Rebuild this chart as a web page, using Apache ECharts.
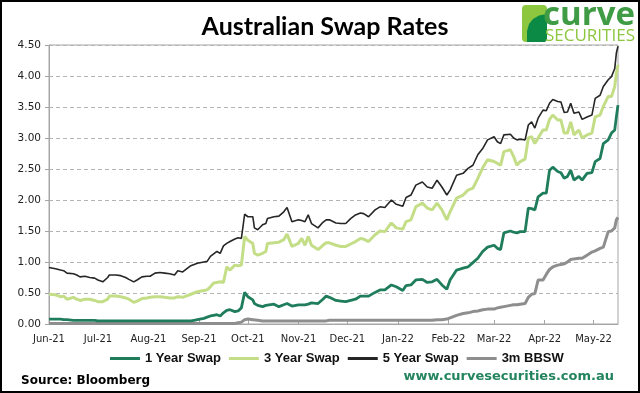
<!DOCTYPE html>
<html><head><meta charset="utf-8">
<script src="https://cdn.jsdelivr.net/npm/echarts@6/dist/echarts.min.js"></script>
<style>html,body{margin:0;padding:0;background:#fff}#c{width:640px;height:393px}</style>
</head><body><div id="c"></div>
<script>
const dates=['2021-06-01','2021-06-05','2021-06-08','2021-06-10','2021-06-12','2021-06-16','2021-06-18','2021-06-20','2021-06-23','2021-06-26','2021-06-29','2021-07-01',
'2021-07-04','2021-07-07','2021-07-08','2021-07-12','2021-07-15','2021-07-18','2021-07-20','2021-07-23','2021-07-25','2021-07-28','2021-07-31','2021-08-02',
'2021-08-05','2021-08-08','2021-08-11','2021-08-14','2021-08-17','2021-08-19','2021-08-22','2021-08-23','2021-08-27','2021-08-29','2021-08-31','2021-09-04',
'2021-09-06','2021-09-08','2021-09-10','2021-09-12','2021-09-14','2021-09-16','2021-09-18','2021-09-20','2021-09-23','2021-09-25','2021-09-27','2021-09-29',
'2021-10-01','2021-10-04','2021-10-05','2021-10-07','2021-10-10','2021-10-12','2021-10-13','2021-10-17','2021-10-20','2021-10-23','2021-10-25','2021-10-28',
'2021-11-01','2021-11-03','2021-11-05','2021-11-07','2021-11-09','2021-11-13','2021-11-16','2021-11-18','2021-11-20','2021-11-24','2021-11-27','2021-11-30',
'2021-12-03','2021-12-06','2021-12-09','2021-12-11','2021-12-14','2021-12-18','2021-12-21','2021-12-24','2021-12-28','2021-12-31','2022-01-04','2022-01-06',
'2022-01-09','2022-01-12','2022-01-16','2022-01-19','2022-01-22','2022-01-25','2022-01-28','2022-01-31','2022-02-02','2022-02-06','2022-02-10','2022-02-13',
'2022-02-16','2022-02-19','2022-02-22','2022-02-25','2022-03-01','2022-03-03','2022-03-05','2022-03-07','2022-03-11','2022-03-13','2022-03-15','2022-03-17',
'2022-03-20','2022-03-22','2022-03-24','2022-03-26','2022-03-28','2022-03-31','2022-04-02','2022-04-04','2022-04-06','2022-04-09','2022-04-11','2022-04-13',
'2022-04-15','2022-04-17','2022-04-19','2022-04-22','2022-04-24','2022-04-27','2022-04-30','2022-05-02','2022-05-05','2022-05-07','2022-05-10','2022-05-12',
'2022-05-14','2022-05-15','2022-05-16'];

const swap1y=[.08,.08,.08,.07,.07,.06,.06,.06,.06,.06,.06,.05,
.05,.05,.05,.05,.05,.05,.05,.05,.05,.05,.05,.05,
.05,.05,.05,.05,.05,.05,.05,.05,.05,.06,.07,.09,
.11,.13,.14,.15,.13,.18,.22,.23,.20,.21,.26,.51,
.44,.39,.33,.30,.28,.30,.31,.32,.28,.31,.33,.29,
.31,.31,.31,.32,.34,.33,.40,.45,.43,.38,.37,.36,
.38,.40,.45,.45,.45,.51,.55,.55,.63,.60,.54,.62,
.63,.71,.72,.67,.68,.72,.63,.56,.71,.87,.90,.92,
.99,1.06,1.17,1.24,1.27,1.22,1.20,1.47,1.50,1.48,1.47,1.49,
1.49,1.87,1.86,1.84,2.05,2.11,2.11,2.48,2.53,2.46,2.44,2.35,
2.38,2.48,2.32,2.38,2.32,2.43,2.44,2.62,2.67,2.91,2.97,3.08,
3.13,3.34,3.53];

const swap3y=[.48,.47,.44,.45,.40,.43,.40,.38,.40,.40,.38,.36,
.36,.40,.45,.45,.44,.42,.40,.35,.37,.41,.42,.43,
.44,.44,.43,.42,.42,.44,.43,.41,.48,.50,.52,.54,
.55,.60,.66,.67,.68,.67,.92,.87,.95,.94,.95,1.41,
1.35,1.30,1.14,1.11,1.14,1.17,1.30,1.31,1.32,1.36,1.45,1.25,
1.30,1.38,1.27,1.41,1.27,1.20,1.27,1.31,1.31,1.27,1.25,1.25,
1.29,1.33,1.38,1.37,1.33,1.44,1.50,1.49,1.63,1.55,1.53,1.65,
1.68,1.89,1.95,1.87,1.84,1.95,1.84,1.68,1.81,2.03,2.08,2.16,
2.19,2.35,2.52,2.65,2.62,2.59,2.56,2.78,2.81,2.70,2.56,2.62,
2.66,3.00,3.02,2.91,3.00,3.13,3.13,3.30,3.37,3.29,3.29,3.08,
3.08,3.26,3.05,3.13,3.00,3.05,3.08,3.34,3.37,3.51,3.67,3.67,
3.83,4.04,4.18];

const swap5y=[.91,.89,.87,.86,.82,.81,.79,.76,.77,.75,.74,.71,
.68,.75,.79,.79,.78,.75,.72,.68,.71,.76,.77,.77,
.82,.83,.82,.81,.79,.86,.84,.82,.94,.96,.98,1.00,
1.01,1.09,1.13,1.17,1.14,1.26,1.30,1.33,1.37,1.39,1.38,1.77,
1.73,1.73,1.55,1.52,1.60,1.62,1.70,1.73,1.74,1.81,1.88,1.65,
1.68,1.67,1.65,1.76,1.62,1.55,1.64,1.68,1.68,1.63,1.62,1.62,
1.70,1.76,1.79,1.78,1.73,1.84,1.89,1.88,2.00,1.93,1.90,2.04,
2.08,2.24,2.29,2.21,2.19,2.32,2.21,2.08,2.16,2.40,2.43,2.51,
2.56,2.73,2.83,2.97,3.02,2.94,2.91,3.05,3.06,3.00,2.97,2.98,
2.97,3.21,3.26,3.16,3.32,3.45,3.44,3.56,3.62,3.59,3.58,3.41,
3.42,3.56,3.40,3.42,3.30,3.34,3.37,3.64,3.69,3.83,3.94,3.99,
4.12,4.37,4.48];

const bbsw3m=[.01,.01,.01,.01,.01,.01,.01,.01,.01,.01,.01,.01,
.01,.01,.01,.01,.01,.01,.01,.01,.01,.01,.01,.01,
.01,.01,.01,.01,.01,.01,.01,.01,.01,.01,.01,.01,
.01,.01,.01,.01,.01,.01,.01,.01,.01,.02,.03,.07,
.08,.07,.06,.06,.05,.05,.05,.05,.05,.05,.05,.05,
.05,.05,.05,.05,.05,.05,.05,.05,.06,.06,.06,.06,
.06,.06,.06,.06,.06,.06,.06,.06,.06,.06,.06,.06,
.06,.06,.06,.06,.06,.07,.07,.08,.10,.14,.17,.18,
.20,.21,.23,.24,.24,.26,.27,.28,.30,.31,.31,.32,
.33,.43,.48,.49,.71,.71,.80,.88,.92,.95,.96,.97,
1.00,1.04,1.05,1.06,1.06,1.11,1.16,1.18,1.22,1.24,1.49,1.50,
1.55,1.68,1.72];

const seriesNames=['1 Year Swap','3 Year Swap','5 Year Swap','3m BBSW'];
const yTicks=[0,0.5,1,1.5,2,2.5,3,3.5,4,4.5];

const chart=echarts.init(document.getElementById('c'),null,{renderer:'canvas'});
const pair=v=>dates.map((d,i)=>[d,v[i]]);
const axisGray='#a6a6a6';
const option={
  animation:false,
  grid:{left:49,right:22,top:45,bottom:69,show:true,borderColor:axisGray,borderWidth:1,containLabel:false},
  xAxis:{type:'time',min:+new Date(2021,5,1),max:+new Date(2022,4,16),splitNumber:12,
    minInterval:28*864e5,maxInterval:31*864e5,
    axisLine:{lineStyle:{color:axisGray}},
    axisTick:{show:true,inside:true,length:4,lineStyle:{color:axisGray}},
    splitLine:{show:false},
    axisLabel:{formatter:'{MMM}-{yy}',fontFamily:'DejaVu Sans',fontSize:10,color:'#222',margin:10,hideOverlap:false,showMaxLabel:false}},
  yAxis:{type:'value',min:yTicks[0],max:yTicks[yTicks.length-1],interval:0.5,
    axisLine:{show:true,lineStyle:{color:axisGray}},
    axisTick:{show:true,length:4,lineStyle:{color:axisGray}},
    splitLine:{show:true,lineStyle:{color:'#b4b4b4',type:[4,3],width:1}},
    axisLabel:{formatter:v=>v.toFixed(2),fontFamily:'DejaVu Sans',fontSize:10.5,color:'#222',margin:8}},
  legend:{data:seriesNames,left:105,top:347,itemWidth:30,itemHeight:3,icon:'rect',itemGap:8,
    textStyle:{fontFamily:'Liberation Sans',fontWeight:'bold',fontSize:13,color:'#111'}},
  series:[
    {name:seriesNames[0],type:'line',data:pair(swap1y),showSymbol:false,symbol:'none',color:'#1f7d5c',lineStyle:{width:2.8,color:'#1f7d5c'},z:3},
    {name:seriesNames[1],type:'line',data:pair(swap3y),showSymbol:false,symbol:'none',color:'#c4de88',lineStyle:{width:3,color:'#c4de88'},z:2},
    {name:seriesNames[2],type:'line',data:pair(swap5y),showSymbol:false,symbol:'none',color:'#262626',lineStyle:{width:1.6,color:'#262626'},z:4},
    {name:seriesNames[3],type:'line',data:pair(bbsw3m),showSymbol:false,symbol:'none',color:'#8e8e8e',lineStyle:{width:3,color:'#8e8e8e'},z:1}
  ],
  graphic:[
    {type:'rect',shape:{x:1,y:1,width:638,height:391},style:{fill:null,stroke:'#000',lineWidth:2},silent:true,z:100},
    {type:'text',x:325,y:27,style:{text:'Australian Swap Rates',font:'bold 25px Lato',fill:'#000',textAlign:'center',textVerticalAlign:'middle'}},
    {type:'rect',shape:{x:522,y:5,width:25,height:37,r:4},style:{fill:'#8dc63f'}},
    {type:'polygon',shape:{points:[[527,42],[527,31],[529,24],[533,19],[539,15.5],[547,14],[547,39],[545,42]]},style:{fill:'#0b8a45'}},
    {type:'text',x:543,y:16,style:{text:'curve',font:'bold 33px "Open Sans"',fill:'#3f9c45',textAlign:'left',textVerticalAlign:'middle'}},
    {type:'text',x:545,y:36,style:{text:'SECURITIES',font:'17px "Open Sans"',fill:'#8dc63f',textAlign:'left',textVerticalAlign:'middle'}},
    {type:'text',x:21,y:381,style:{text:'Source: Bloomberg',font:'bold 12px "DejaVu Sans"',fill:'#000',textAlign:'left',textVerticalAlign:'middle'}},
    {type:'text',x:614,y:377,style:{text:'www.curvesecurities.com.au',font:'bold 13px "DejaVu Sans"',fill:'#23845f',textAlign:'right',textVerticalAlign:'middle'}}
  ]
};
chart.setOption(option);
</script></body></html>
